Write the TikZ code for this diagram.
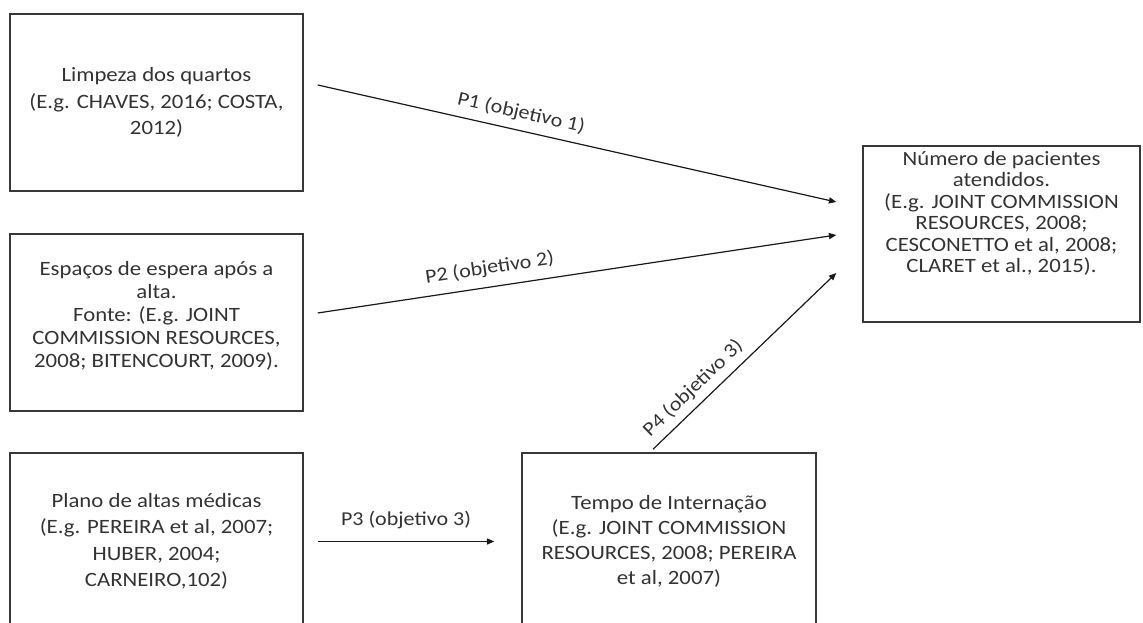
\documentclass[tikz,border=0pt]{standalone}
\usepackage{fontspec}
\setmainfont{Carlito}[FakeStretch=1.12]
\usetikzlibrary{arrows.meta,calc}

\begin{document}
\begin{tikzpicture}[
  x=0.75pt,y=-0.75pt,
  box/.style={draw=black!78,line width=1.1pt,align=center,inner sep=0pt,
              minimum width=219.75pt,minimum height=132.75pt,text=black!80,
              font=\fontsize{15.25pt}{19pt}\selectfont},
  flow/.style={-{Triangle[length=5.5pt,width=4.6pt]},line width=0.9pt,black!90},
  tag/.style={font=\fontsize{14.75pt}{17pt}\selectfont,text=black!80,inner sep=1pt}
]
\useasboundingbox (0,0) rectangle (1143,623);
\clip (0,0) rectangle (1143,623);
\node[box,font=\fontsize{15.25pt}{20pt}\selectfont] (limpeza) at (156.5,102.5)
  {Limpeza dos quartos\\(E.g. CHAVES, 2016; COSTA,\\2012)};
\node[box,font=\fontsize{15.25pt}{17.25pt}\selectfont,text depth=12.4pt] (espacos) at (156.5,322.5)
  {Espaços de espera após a\\alta.\\Fonte: (E.g. JOINT\\COMMISSION RESOURCES,\\2008; BITENCOURT, 2009).};
\node[box,font=\fontsize{15.25pt}{19.9pt}\selectfont] (plano) at (156.5,541.5)
  {Plano de altas médicas\\(E.g. PEREIRA et al, 2007;\\HUBER, 2004;\\CARNEIRO,102)};
\node[box,minimum width=220.5pt,font=\fontsize{15.25pt}{18.6pt}\selectfont] (tempo) at (669,541.5)
  {Tempo de Internação\\(E.g. JOINT COMMISSION\\RESOURCES, 2008; PEREIRA\\et al, 2007)};
\node[box,minimum width=207.75pt,minimum height=132pt,text depth=33pt,
      font=\fontsize{15.25pt}{16.1pt}\selectfont] (numero) at (1001.5,234)
  {Número de pacientes\\atendidos.\\(E.g. JOINT COMMISSION\\RESOURCES, 2008;\\CESCONETTO et al, 2008;\\CLARET et al., 2015).};
\draw[flow] ($(limpeza.east)+(14,-17.5)$) -- node[tag,pos=0.385,above=5pt,sloped] {P1 (objetivo 1)} ($(numero.west)+(-26,-32)$);
\draw[flow] ($(espacos.east)+(14,-9.5)$) -- node[tag,pos=0.337,above=6pt,sloped] {P2 (objetivo 2)} ($(numero.west)+(-26,1)$);
\draw[flow] ($(plano.east)+(14,0)$) -- node[tag,midway,above=8pt] {P3 (objetivo 3)} ($(tempo.west)+(-27,0)$);
\draw[flow] ($(tempo.north)+(-16,-3)$) -- node[tag,pos=0.28,above=4pt,sloped] {P4 (objetivo 3)} ($(numero.west)+(-26,39)$);
\end{tikzpicture}
\end{document}
